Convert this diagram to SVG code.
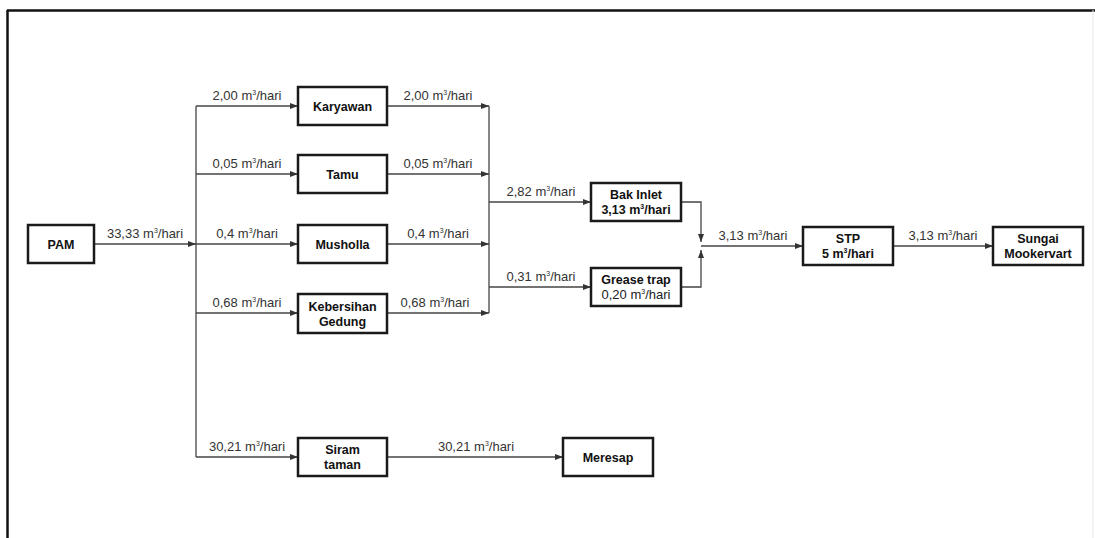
<svg xmlns="http://www.w3.org/2000/svg" width="1095" height="538" viewBox="0 0 1095 538">
<style>
  .box { fill: #fff; stroke: #1a1a1a; stroke-width: 2.5; }
  .ln { fill: none; stroke: #444; stroke-width: 1.3; }
  .lbl { font-family: "Liberation Sans", Arial, sans-serif; font-size: 13px; fill: #333; text-anchor: middle; }
  .nt { font-family: "Liberation Sans", Arial, sans-serif; font-size: 12.5px; font-weight: bold; fill: #111; text-anchor: middle; }
  .nr { font-family: "Liberation Sans", Arial, sans-serif; font-size: 13px; fill: #222; text-anchor: middle; }
  .sup { font-size: 7px; }
</style>
<defs>
  <marker id="arr" markerUnits="userSpaceOnUse" markerWidth="8" markerHeight="6" refX="8" refY="3" orient="auto">
    <path d="M0,0 L8,3 L0,6 z" fill="#333"/>
  </marker>
</defs>
<rect x="0" y="0" width="1095" height="538" fill="#fff"/>
<g id="frame">
  <line x1="7" y1="10.5" x2="1095" y2="10.5" stroke="#111" stroke-width="2.5"/>
  <line x1="7.5" y1="10" x2="7.5" y2="538" stroke="#111" stroke-width="2.5"/>
  <line x1="1093" y1="10" x2="1093" y2="538" stroke="#e6e6e6" stroke-width="1"/>
</g>
<g id="connectors">
  <path class="ln" d="M94,244 H196" marker-end="url(#arr)"/>
  <path class="ln" d="M196,106 V457"/>
  <path class="ln" d="M196,106 H298" marker-end="url(#arr)"/>
  <path class="ln" d="M196,174 H298" marker-end="url(#arr)"/>
  <path class="ln" d="M196,244 H298" marker-end="url(#arr)"/>
  <path class="ln" d="M196,313 H298" marker-end="url(#arr)"/>
  <path class="ln" d="M196,457 H298" marker-end="url(#arr)"/>
  <path class="ln" d="M387,106 H489" marker-end="url(#arr)"/>
  <path class="ln" d="M387,174 H489" marker-end="url(#arr)"/>
  <path class="ln" d="M387,244 H489" marker-end="url(#arr)"/>
  <path class="ln" d="M387,313 H489" marker-end="url(#arr)"/>
  <path class="ln" d="M489,106 V313"/>
  <path class="ln" d="M489,202 H591" marker-end="url(#arr)"/>
  <path class="ln" d="M489,287 H591" marker-end="url(#arr)"/>
  <path class="ln" d="M681,202 H701 V242" marker-end="url(#arr)"/>
  <path class="ln" d="M681,287 H701 V250" marker-end="url(#arr)"/>
  <path class="ln" d="M701,246 H803" marker-end="url(#arr)"/>
  <path class="ln" d="M893,246 H993" marker-end="url(#arr)"/>
  <path class="ln" d="M387,457 H563" marker-end="url(#arr)"/>
  <text class="lbl" x="145" y="238">33,33 m<tspan class="sup" dy="-5">3</tspan><tspan dy="5">/hari</tspan></text>
  <text class="lbl" x="247" y="100">2,00 m<tspan class="sup" dy="-5">3</tspan><tspan dy="5">/hari</tspan></text>
  <text class="lbl" x="247" y="168">0,05 m<tspan class="sup" dy="-5">3</tspan><tspan dy="5">/hari</tspan></text>
  <text class="lbl" x="247" y="238">0,4 m<tspan class="sup" dy="-5">3</tspan><tspan dy="5">/hari</tspan></text>
  <text class="lbl" x="247" y="307">0,68 m<tspan class="sup" dy="-5">3</tspan><tspan dy="5">/hari</tspan></text>
  <text class="lbl" x="247" y="451">30,21 m<tspan class="sup" dy="-5">3</tspan><tspan dy="5">/hari</tspan></text>
  <text class="lbl" x="438" y="100">2,00 m<tspan class="sup" dy="-5">3</tspan><tspan dy="5">/hari</tspan></text>
  <text class="lbl" x="438" y="168">0,05 m<tspan class="sup" dy="-5">3</tspan><tspan dy="5">/hari</tspan></text>
  <text class="lbl" x="438" y="238">0,4 m<tspan class="sup" dy="-5">3</tspan><tspan dy="5">/hari</tspan></text>
  <text class="lbl" x="435" y="307">0,68 m<tspan class="sup" dy="-5">3</tspan><tspan dy="5">/hari</tspan></text>
  <text class="lbl" x="476" y="451">30,21 m<tspan class="sup" dy="-5">3</tspan><tspan dy="5">/hari</tspan></text>
  <text class="lbl" x="541" y="196">2,82 m<tspan class="sup" dy="-5">3</tspan><tspan dy="5">/hari</tspan></text>
  <text class="lbl" x="541" y="281">0,31 m<tspan class="sup" dy="-5">3</tspan><tspan dy="5">/hari</tspan></text>
  <text class="lbl" x="753" y="240">3,13 m<tspan class="sup" dy="-5">3</tspan><tspan dy="5">/hari</tspan></text>
  <text class="lbl" x="943" y="240">3,13 m<tspan class="sup" dy="-5">3</tspan><tspan dy="5">/hari</tspan></text>
</g>
<g id="node-pam">
  <rect class="box" x="28" y="225" width="66" height="38"/>
  <text class="nt" x="61" y="248.5">PAM</text>
</g>
<g id="node-karyawan">
  <rect class="box" x="298" y="87" width="89" height="38"/>
  <text class="nt" x="342.5" y="110.5">Karyawan</text>
</g>
<g id="node-tamu">
  <rect class="box" x="298" y="155" width="89" height="38"/>
  <text class="nt" x="342.5" y="178.5">Tamu</text>
</g>
<g id="node-musholla">
  <rect class="box" x="298" y="225" width="89" height="38"/>
  <text class="nt" x="342.5" y="248.5">Musholla</text>
</g>
<g id="node-kebersihan">
  <rect class="box" x="298" y="294" width="89" height="39"/>
  <text class="nt" x="342.5" y="310.5">Kebersihan</text>
  <text class="nt" x="342.5" y="325.5">Gedung</text>
</g>
<g id="node-siram">
  <rect class="box" x="298" y="438" width="89" height="38"/>
  <text class="nt" x="342.5" y="454">Siram</text>
  <text class="nt" x="342.5" y="468.5">taman</text>
</g>
<g id="node-meresap">
  <rect class="box" x="563" y="438" width="90" height="38"/>
  <text class="nt" x="608" y="461.5">Meresap</text>
</g>
<g id="node-bakinlet">
  <rect class="box" x="591" y="183" width="90" height="38"/>
  <text class="nt" x="636" y="198.5">Bak Inlet</text>
  <text class="nt" x="636" y="213.5">3,13 m<tspan class="sup" dy="-5">3</tspan><tspan dy="5">/hari</tspan></text>
</g>
<g id="node-greasetrap">
  <rect class="box" x="591" y="268" width="90" height="38"/>
  <text class="nt" x="636" y="283.5">Grease trap</text>
  <text class="nr" x="636" y="299">0,20 m<tspan class="sup" dy="-5">3</tspan><tspan dy="5">/hari</tspan></text>
</g>
<g id="node-stp">
  <rect class="box" x="803" y="227" width="90" height="38"/>
  <text class="nt" x="848" y="242.5">STP</text>
  <text class="nt" x="848" y="258">5 m<tspan class="sup" dy="-5">3</tspan><tspan dy="5">/hari</tspan></text>
</g>
<g id="node-sungai">
  <rect class="box" x="993" y="227" width="90" height="38"/>
  <text class="nt" x="1038" y="242.5">Sungai</text>
  <text class="nt" x="1038" y="258">Mookervart</text>
</g>
</svg>
